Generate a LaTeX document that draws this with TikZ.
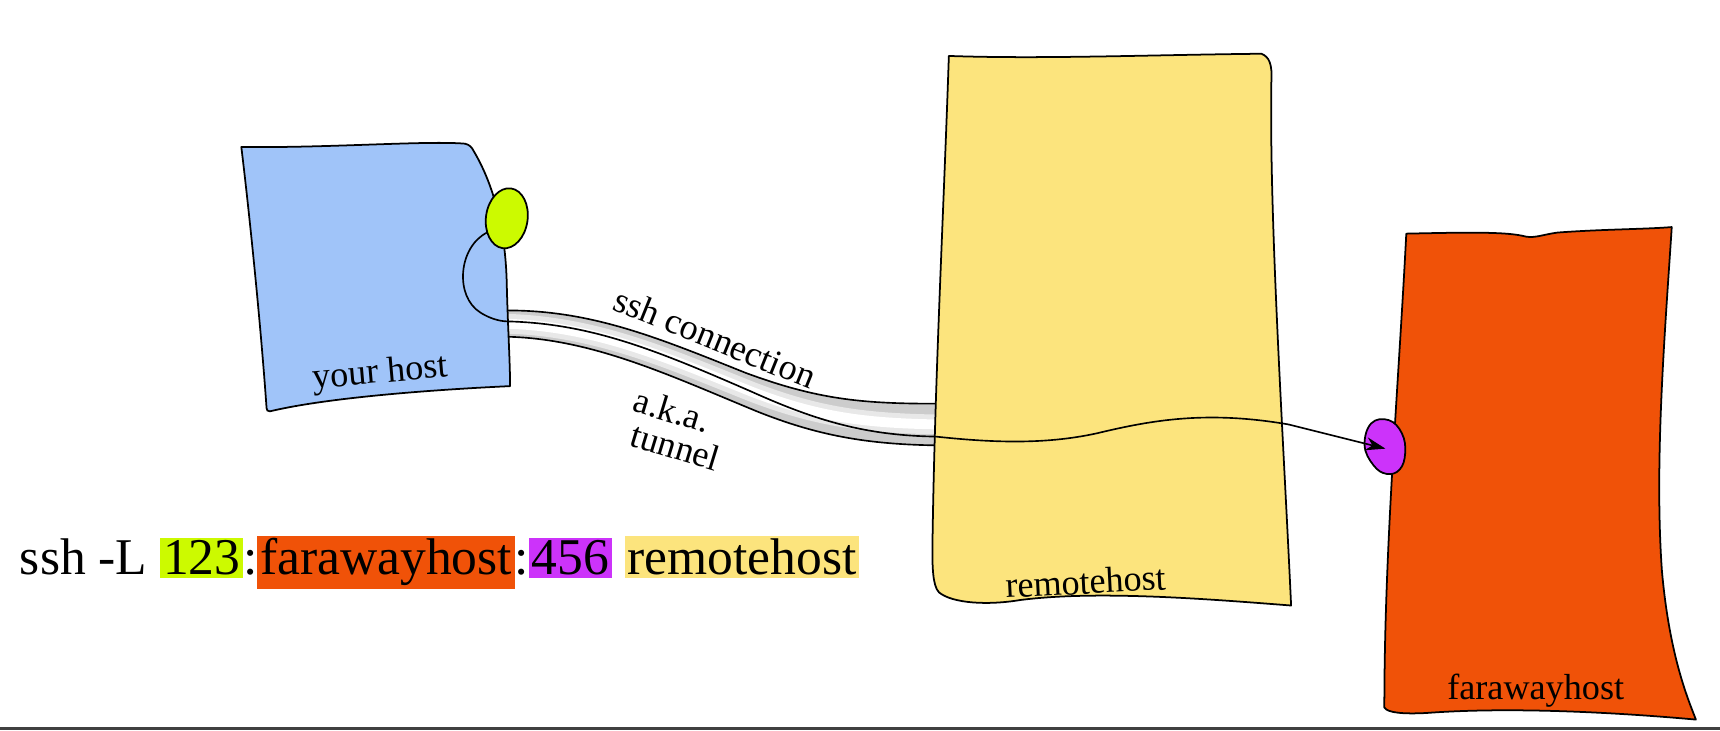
\documentclass[tikz,border=0pt]{standalone}
\usepackage{fontspec}
\setmainfont{Liberation Serif}
\usetikzlibrary{arrows.meta,shapes.geometric}
\definecolor{cblue}{RGB}{160,196,249}
\definecolor{clime}{RGB}{204,250,0}
\definecolor{cyellow}{RGB}{252,228,125}
\definecolor{corange}{RGB}{240,82,8}
\definecolor{cpurple}{RGB}{204,51,250}
\tikzset{
  hostbox/.style={draw=black, line width=1.6pt, line join=round},
  lbl/.style={inner sep=0pt, font=\fontsize{33}{38}\selectfont},
  conn/.style={draw=black, line width=1.5pt},
  tubeline/.style={draw=black, line width=1.5pt},
}
\setlength{\fboxsep}{2.5pt}
\begin{document}
\begin{tikzpicture}[x=1pt,y=-1pt]
\useasboundingbox (0,0) rectangle (1568,665.6);
\fill[white] (0,0) rectangle (1568,665.6);
% bottom screen border
\fill[black!75] (0,662.5) rectangle (1568,665.6);

% tube
\coordinate (tA) at (463,283);
\coordinate (tB) at (853,368);
\coordinate (bA) at (463,307);
\coordinate (bB) at (853,406);
\begin{scope}
\clip (tA) .. controls (540,283) and (600,308) .. (680,340) .. controls (745,364) and (785,368) .. (tB)
  -- (bB) .. controls (790,405) and (745,397) .. (690,375) .. controls (610,342) and (540,309) .. (bA) -- cycle;
\fill[gray!40] (440,270) rectangle (860,420);
\draw[gray!18, line width=18pt] (455,295) .. controls (540,296) and (605,325) .. (685,357) .. controls (745,380) and (787,386) .. (860,387);
\draw[white, line width=9pt] (455,295) .. controls (540,296) and (605,325) .. (685,357) .. controls (745,380) and (787,386) .. (860,387);
\end{scope}
\draw[tubeline] (tA) .. controls (540,283) and (600,308) .. (680,340) .. controls (745,364) and (785,368) .. (tB);
\draw[tubeline] (bA) .. controls (540,309) and (610,342) .. (690,375) .. controls (745,397) and (790,405) .. (bB);

% your host
\draw[hostbox, fill=cblue] (220,134) .. controls (300,135) and (390,128) .. (424,131)
  .. controls (428,132) and (430,134) .. (432,138)
  .. controls (448,165) and (461,205) .. (462,260) .. controls (463,300) and (465,330) .. (465,352)
  .. controls (400,355) and (300,362) .. (246,375) .. controls (244,375) and (243,374) .. (243,372)
  .. controls (238,300) and (228,200) .. cycle;
\node[lbl, rotate=5] (yh) at (347,341) {your host};

% remotehost
\draw[hostbox, fill=cyellow] (865,51) .. controls (950,54) and (1050,50) .. (1150,49)
  .. controls (1157,52) and (1160,58) .. (1159,75)
  .. controls (1157,200) and (1170,400) .. (1177,552)
  .. controls (1100,546) and (1000,538) .. (930,547) .. controls (900,552) and (868,550) .. (856,540)
  .. controls (850,534) and (850,515) .. (850,500)
  .. controls (852,350) and (860,200) .. cycle;
\node[lbl, rotate=3] (rh) at (990,530) {remotehost};

% farawayhost
\draw[hostbox, fill=corange] (1282,213) .. controls (1330,212) and (1370,211) .. (1388,215)
  .. controls (1398,218) and (1405,214) .. (1420,212) .. controls (1460,209) and (1500,209) .. (1524,207)
  .. controls (1518,300) and (1508,420) .. (1515,520) .. controls (1522,600) and (1540,640) .. (1546,656)
  .. controls (1480,650) and (1380,644) .. (1300,650) .. controls (1280,651) and (1265,650) .. (1262,645)
  .. controls (1262,500) and (1275,350) .. cycle;
\node[lbl] (fh) at (1400,630) {farawayhost};

% purple port
\draw[draw=black, line width=1.6pt, fill=cpurple] plot[smooth cycle, tension=0.7] coordinates {
 (1250,386) (1266,383) (1278,395) (1281,413) (1276,428) (1264,432) (1252,424) (1244,406)};
\coordinate (pp) at (1263,409);

% green port
\node[draw=black, line width=1.6pt, fill=clime, ellipse, minimum width=38pt, minimum height=55pt, inner sep=0pt, rotate=-8] (gp) at (462,199) {};

% connection
\draw[conn] (444,212) .. controls (418,225) and (414,270) .. (438,285) .. controls (446,290) and (455,293) .. (463,293)
  .. controls (540,295) and (600,320) .. (685,357) .. controls (745,384) and (790,397) .. (853,398)
  .. controls (900,403) and (950,406) .. (1000,395) .. controls (1050,383) and (1100,374) .. (1175,387);
\draw[conn, -{Stealth[length=18pt,width=12pt]}] (1175,387) -- (pp);

% labels on tunnel
\node[lbl, rotate=-22] (sc) at (652,308) {ssh connection};
\node[lbl, rotate=-17] (aka) at (613,374) {a.k.a.};
\node[lbl, rotate=-17] (tun) at (616,407) {tunnel};

% command line
\node[anchor=base west, inner sep=0pt, font=\fontsize{47}{56}\selectfont] (cmd) at (18,524)
 {ssh -L \colorbox{clime}{123}:\colorbox{corange}{farawayhost}:\colorbox{cpurple}{456} \colorbox{cyellow}{remotehost}};
\end{tikzpicture}
\end{document}
